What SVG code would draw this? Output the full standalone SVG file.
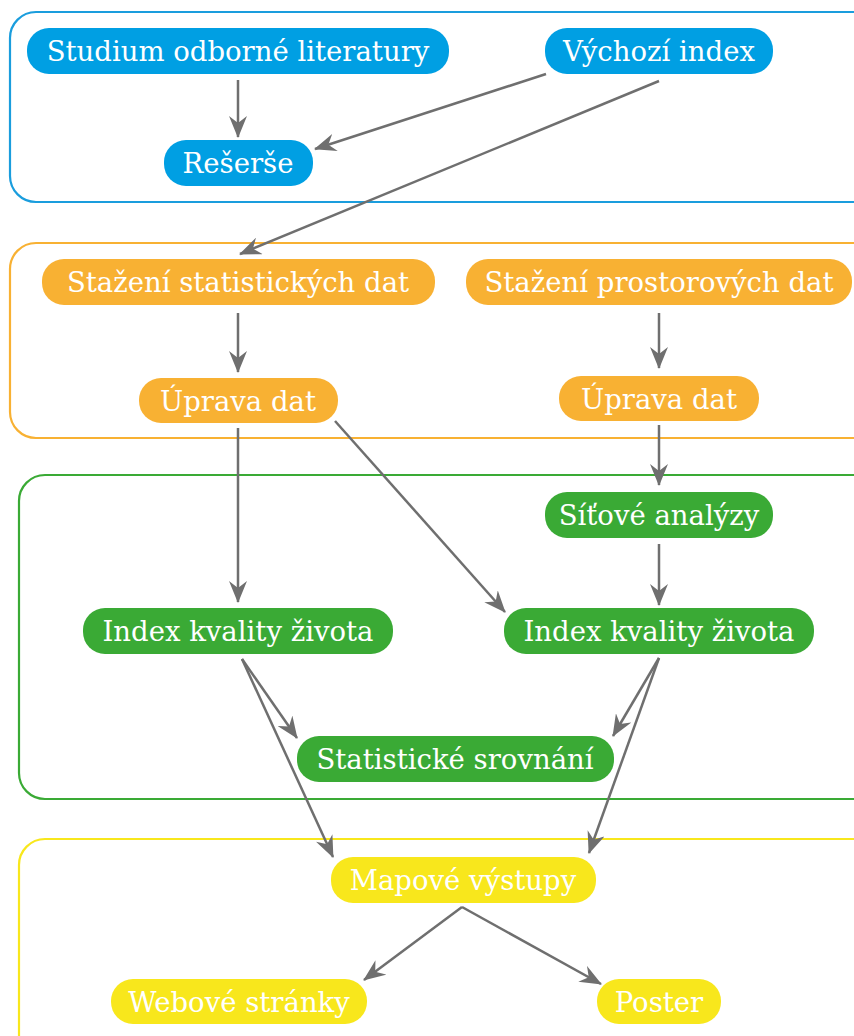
<svg xmlns="http://www.w3.org/2000/svg" width="854" height="1036" viewBox="0 0 854 1036">
<defs>
<marker id="ah" viewBox="0 0 22 18" refX="21" refY="9" markerWidth="22" markerHeight="18" markerUnits="userSpaceOnUse" orient="auto">
<path d="M0,0 L22,9 L0,18 L7,9 z" fill="#6f6f6f"/>
</marker>
<style>
.cl{fill:none;stroke-width:2.2}
.n text{font-family:"DejaVu Serif","Liberation Serif",serif;font-size:27.5px;fill:#fff;text-anchor:middle;dominant-baseline:central}
.b rect{fill:#009fe3}
.o rect{fill:#f8b133}
.g rect{fill:#3aaa35}
.y rect{fill:#f8e71c}
#edges line{stroke:#6f6f6f;stroke-width:2.5;marker-end:url(#ah)}
</style>
</defs>
<rect width="854" height="1036" fill="#fff"/>
<g id="clusters">
<rect class="cl" x="10" y="12" width="870" height="190" rx="26" stroke="#1a9ddd"/>
<rect class="cl" x="10" y="243" width="870" height="195" rx="26" stroke="#f8b133"/>
<rect class="cl" x="19" y="475" width="870" height="324" rx="26" stroke="#3aaa35"/>
<rect class="cl" x="19" y="839" width="870" height="240" rx="26" stroke="#f8e71c"/>
</g>
<g id="edges">
<line x1="238" y1="80" x2="238" y2="137"/>
<line x1="546" y1="74" x2="315" y2="149"/>
<line x1="659" y1="81" x2="240" y2="254"/>
<line x1="238" y1="313" x2="238" y2="372"/>
<line x1="659" y1="313" x2="659" y2="368"/>
<line x1="238" y1="428" x2="238" y2="602"/>
<line x1="335" y1="421" x2="505" y2="612"/>
<line x1="659" y1="425" x2="659" y2="485"/>
<line x1="659" y1="544" x2="659" y2="605"/>
<line x1="242" y1="659" x2="297" y2="738"/>
<line x1="242" y1="659" x2="333" y2="857"/>
<line x1="659" y1="658" x2="613" y2="736"/>
<line x1="659" y1="658" x2="589" y2="853"/>
<line x1="462" y1="907" x2="364" y2="980"/>
<line x1="462" y1="907" x2="601" y2="984"/>
</g>
<g id="n1" class="n b"><rect x="27" y="28" width="422" height="46" rx="22"/><text x="238" y="51">Studium odborné literatury</text></g>
<g id="n2" class="n b"><rect x="545" y="28" width="228" height="46" rx="22"/><text x="659" y="51">Výchozí index</text></g>
<g id="n3" class="n b"><rect x="164" y="140" width="149" height="46" rx="22"/><text x="238" y="163">Rešerše</text></g>
<g id="n4" class="n o"><rect x="42" y="259" width="393" height="46" rx="22"/><text x="238" y="282">Stažení statistických dat</text></g>
<g id="n5" class="n o"><rect x="466" y="259" width="386" height="46" rx="22"/><text x="659" y="282">Stažení prostorových dat</text></g>
<g id="n6" class="n o"><rect x="139" y="378" width="199" height="45" rx="22"/><text x="238" y="401">Úprava dat</text></g>
<g id="n7" class="n o"><rect x="559" y="376" width="200" height="45" rx="22"/><text x="659" y="399">Úprava dat</text></g>
<g id="n8" class="n g"><rect x="545" y="492" width="228" height="46" rx="22"/><text x="659" y="515">Síťové analýzy</text></g>
<g id="n9" class="n g"><rect x="83" y="608" width="310" height="46" rx="22"/><text x="238" y="631">Index kvality života</text></g>
<g id="n10" class="n g"><rect x="504" y="608" width="310" height="46" rx="22"/><text x="659" y="631">Index kvality života</text></g>
<g id="n11" class="n g"><rect x="297" y="736" width="317" height="46" rx="22"/><text x="455" y="759">Statistické srovnání</text></g>
<g id="n12" class="n y"><rect x="331" y="857" width="265" height="46" rx="22"/><text x="463" y="880">Mapové výstupy</text></g>
<g id="n13" class="n y"><rect x="111" y="979" width="256" height="45" rx="22"/><text x="239" y="1002">Webové stránky</text></g>
<g id="n14" class="n y"><rect x="597" y="979" width="124" height="45" rx="22"/><text x="659" y="1002">Poster</text></g>
</svg>
